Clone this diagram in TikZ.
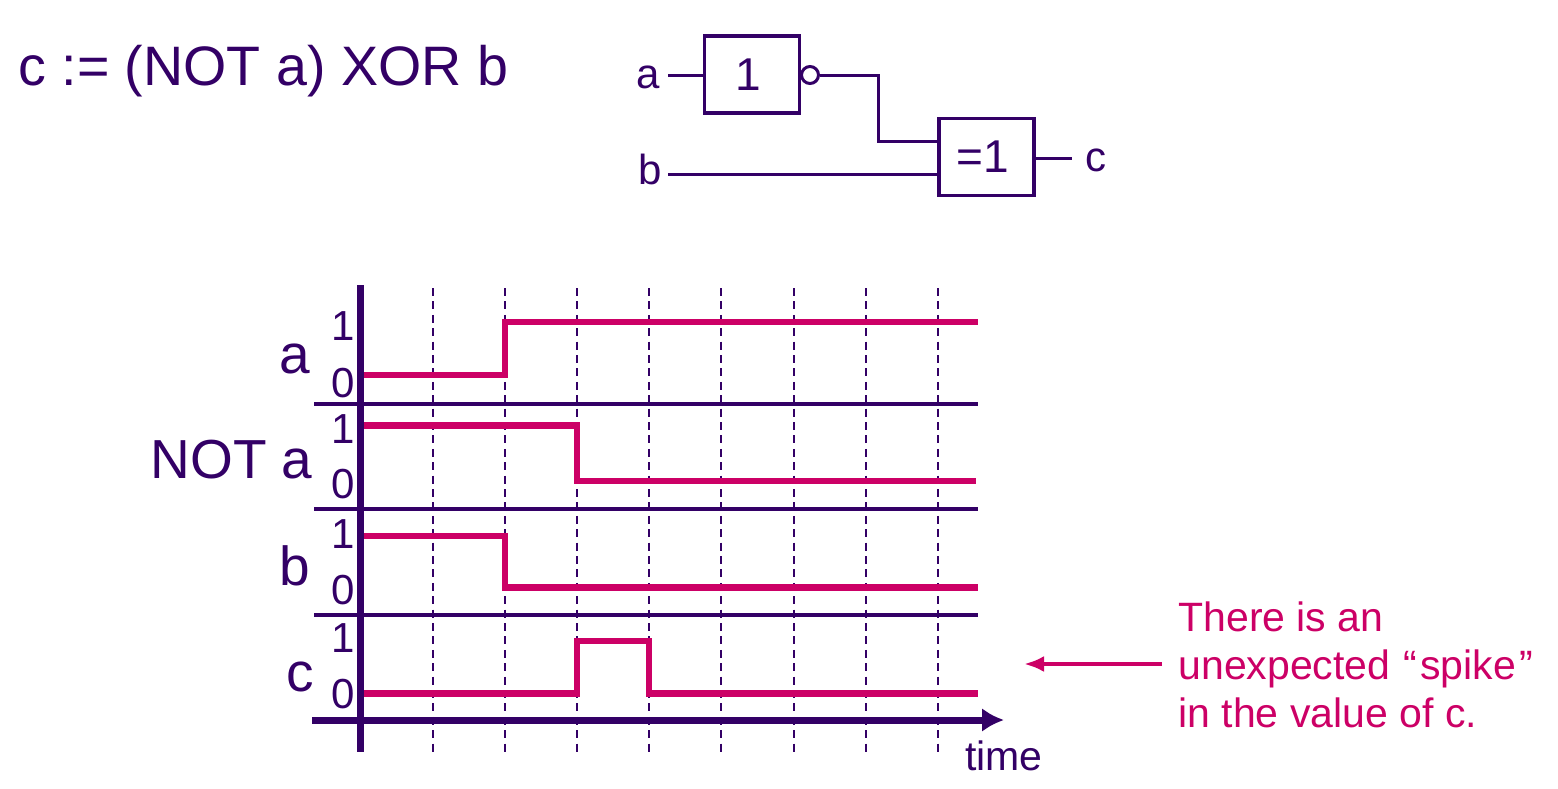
\documentclass[tikz,border=0pt]{standalone}
\usepackage{fontspec}
\setmainfont{Liberation Sans}
\usetikzlibrary{arrows,arrows.meta}
\definecolor{ink}{HTML}{330066}
\definecolor{wave}{HTML}{CC0066}
\tikzset{
  gate/.style={draw=ink,line width=1.6pt,fill=white,inner sep=0pt,minimum width=47.5pt,minimum height=38.5pt,text=ink,font=\fontsize{23}{24}\selectfont},
  wire/.style={draw=ink,line width=1.5pt,-},
  signal/.style={draw=wave,line width=3.25pt,-,line join=miter},
  levelname/.style={text=ink,anchor=base,inner sep=0pt,font=\fontsize{21}{24}\selectfont},
  signame/.style={text=ink,anchor=base,inner sep=0pt,font=\fontsize{27.5}{30}\selectfont}
}
\begin{document}
\begin{tikzpicture}[x=0.5pt,y=-0.5pt,->,>=latex]
      \useasboundingbox (0,0) rectangle (1558,788);
      \node[signame,anchor=base west,font=\fontsize{27.8}{30}\selectfont](formula) at (18,85){c := (NOT a) XOR b};
      % gates
      \node[gate](notgate) at (752,74.5){1\kern4pt};
      \node[gate](xorgate) at (986.5,157){=1\kern4pt};
      \node[circle,draw=ink,line width=1.5pt,fill=white,minimum size=8.5pt,inner sep=0pt](bubble) at (810,75){};
      \node[levelname](a) at (648,88){a};
      \node[levelname](b) at (650,184){b};
      \node[levelname](c) at (1096,171){c};
      \coordinate (aend) at (668,75);
      \coordinate (bend) at (668,174);
      \coordinate (cend) at (1072,158);
      \coordinate (xorup) at (xorgate.west |- 0,141);
      \coordinate (xorlow) at (xorgate.west |- bend);
      \draw[wire] (aend) -- (aend -| notgate.west);
      \draw[wire] (bubble.east) -| (878,141) -- (xorup);
      \draw[wire] (bend) -- (xorlow);
      \draw[wire] (cend -| xorgate.east) -- (cend);
      % time lines
      \foreach \x in {433,505,577,649,721,794,866,938}{
        \draw[draw=ink,line width=1.2pt,-,dash pattern=on 4pt off 2.7pt] (\x,288) -- (\x,755);
      }
      \foreach \y in {404,509,615}{
        \draw[wire,line width=1.6pt] (314,\y) -- (978,\y);
      }
      % signals
      \draw[signal] (363,375) -- (505,375) -- (505,322) -- (978,322);
      \draw[signal] (363,425.5) -- (577,425.5) -- (577,481) -- (976,481);
      \draw[signal] (363,536) -- (505,536) -- (505,587.5) -- (978,587.5);
      \draw[signal] (363,693.5) -- (577,693.5) -- (577,641) -- (649,641) -- (649,693.5) -- (978,693.5);
      % axes
      \node[levelname,font=\fontsize{20.5}{24}\selectfont](time) at (1004,770){time};
      \coordinate (ytop) at (360,285);
      \coordinate (ybot) at (360,752);
      \coordinate (xleft) at (312,720);
      \coordinate (xright) at (1004,720);
      \draw[draw=ink,line width=3.5pt,-] (ytop) -- (ybot);
      \draw[draw=ink,line width=3.5pt,-{Latex[length=11pt,width=12pt]}] (xleft) -- (xright);
      \foreach \i/\h/\l in {1/340/397,2/443/498,3/548/604,4/652/708}{
        \node[levelname](high\i) at (343,\h){1};
        \node[levelname](low\i) at (343,\l){0};
      }
      \node[signame](namea) at (295,373){a};
      \node[signame,anchor=base east](namenot) at (313,478){NOT a};
      \node[signame](nameb) at (295,585){b};
      \node[signame](namec) at (300,691){c};
      % note
      \node[anchor=west,align=left,inner sep=0pt,text=wave,font=\fontsize{20.5}{24}\selectfont](note) at (1178,665){There is an\\unexpected\hspace{1pt} “\hspace{1.5pt}spike\hspace{1.5pt}”\\in the value of c.};
      \coordinate (spike) at (1024,664);
      \draw[draw=wave,line width=2pt,-{Latex[length=10pt,width=8pt]}] (1162,664) -- (spike);
    \end{tikzpicture}
\end{document}
